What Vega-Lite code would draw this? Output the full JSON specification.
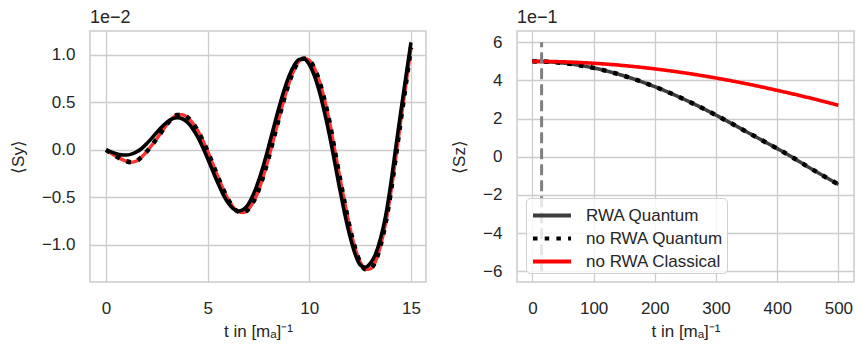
{
  "$schema": "https://vega.github.io/schema/vega-lite/v6.json",
  "padding": {"left": 8, "top": 8, "right": 10, "bottom": 5},
  "config": {
    "font": "Liberation Sans",
    "view": {"stroke": "#cccccc", "strokeWidth": 1.5},
    "axis": {"grid": true, "gridColor": "#cccccc", "gridWidth": 1.3, "domain": false, "ticks": false, "tickSize": 0, "labelFontSize": 17, "labelColor": "#262626", "titleFontSize": 17, "titleColor": "#262626", "titleFontWeight": "normal", "labelPadding": 15, "titlePadding": 14},
    "axisX": {"labelPadding": 18, "titlePadding": 7},
    "title": {"anchor": "start", "frame": "group", "fontSize": 18, "fontWeight": "normal", "color": "#262626", "offset": 0},
    "legend": {"orient": "bottom-left", "offset": 9, "symbolType": "M-1.52,0H1.52", "symbolSize": 625, "symbolOffset": 8.5, "symbolStrokeWidth": 4, "labelFontSize": 17, "labelColor": "#262626", "labelOffset": 19.5, "rowPadding": 0, "padding": 3, "strokeColor": "#d0d0d0", "fillColor": "rgba(255,255,255,0.8)", "cornerRadius": 4, "labelLimit": 300},
    "concat": {"spacing": 22}
  },
  "resolve": {"scale": {"color": "independent", "strokeDash": "independent"}, "legend": {"color": "independent", "strokeDash": "independent"}},
  "datasets": {
    "sy": [
      {"series":"RWA Quantum","t":0,"v":0},{"series":"RWA Quantum","t":0.25,"v":-0.022},{"series":"RWA Quantum","t":0.5,"v":-0.042},{"series":"RWA Quantum","t":0.75,"v":-0.053},{"series":"RWA Quantum","t":1,"v":-0.055},{"series":"RWA Quantum","t":1.25,"v":-0.045},{"series":"RWA Quantum","t":1.5,"v":-0.022},{"series":"RWA Quantum","t":1.75,"v":0.014},{"series":"RWA Quantum","t":2,"v":0.065},{"series":"RWA Quantum","t":2.25,"v":0.123},{"series":"RWA Quantum","t":2.5,"v":0.185},{"series":"RWA Quantum","t":2.75,"v":0.243},{"series":"RWA Quantum","t":3,"v":0.291},{"series":"RWA Quantum","t":3.25,"v":0.325},{"series":"RWA Quantum","t":3.5,"v":0.338},{"series":"RWA Quantum","t":3.75,"v":0.327},{"series":"RWA Quantum","t":4,"v":0.29},{"series":"RWA Quantum","t":4.25,"v":0.226},{"series":"RWA Quantum","t":4.5,"v":0.138},{"series":"RWA Quantum","t":4.75,"v":0.029},{"series":"RWA Quantum","t":5,"v":-0.094},{"series":"RWA Quantum","t":5.25,"v":-0.223},{"series":"RWA Quantum","t":5.5,"v":-0.35},{"series":"RWA Quantum","t":5.75,"v":-0.465},{"series":"RWA Quantum","t":6,"v":-0.557},{"series":"RWA Quantum","t":6.25,"v":-0.619},{"series":"RWA Quantum","t":6.5,"v":-0.645},{"series":"RWA Quantum","t":6.75,"v":-0.629},{"series":"RWA Quantum","t":7,"v":-0.571},{"series":"RWA Quantum","t":7.25,"v":-0.468},{"series":"RWA Quantum","t":7.5,"v":-0.327},{"series":"RWA Quantum","t":7.75,"v":-0.156},{"series":"RWA Quantum","t":8,"v":0.037},{"series":"RWA Quantum","t":8.25,"v":0.24},{"series":"RWA Quantum","t":8.5,"v":0.439},{"series":"RWA Quantum","t":8.75,"v":0.621},{"series":"RWA Quantum","t":9,"v":0.775},{"series":"RWA Quantum","t":9.25,"v":0.888},{"series":"RWA Quantum","t":9.5,"v":0.95},{"series":"RWA Quantum","t":9.75,"v":0.954},{"series":"RWA Quantum","t":10,"v":0.896},{"series":"RWA Quantum","t":10.25,"v":0.779},{"series":"RWA Quantum","t":10.5,"v":0.608},{"series":"RWA Quantum","t":10.75,"v":0.391},{"series":"RWA Quantum","t":11,"v":0.143},{"series":"RWA Quantum","t":11.25,"v":-0.133},{"series":"RWA Quantum","t":11.5,"v":-0.415},{"series":"RWA Quantum","t":11.75,"v":-0.68},{"series":"RWA Quantum","t":12,"v":-0.91},{"series":"RWA Quantum","t":12.25,"v":-1.095},{"series":"RWA Quantum","t":12.5,"v":-1.21},{"series":"RWA Quantum","t":12.75,"v":-1.235},{"series":"RWA Quantum","t":13,"v":-1.195},{"series":"RWA Quantum","t":13.25,"v":-1.1},{"series":"RWA Quantum","t":13.5,"v":-0.935},{"series":"RWA Quantum","t":13.75,"v":-0.7},{"series":"RWA Quantum","t":14,"v":-0.37},{"series":"RWA Quantum","t":14.25,"v":0.02},{"series":"RWA Quantum","t":14.5,"v":0.4},{"series":"RWA Quantum","t":14.75,"v":0.77},{"series":"RWA Quantum","t":15,"v":1.13},
      {"series":"no RWA Quantum","t":0,"v":0},{"series":"no RWA Quantum","t":0.25,"v":-0.035},{"series":"no RWA Quantum","t":0.5,"v":-0.068},{"series":"no RWA Quantum","t":0.75,"v":-0.098},{"series":"no RWA Quantum","t":1,"v":-0.12},{"series":"no RWA Quantum","t":1.25,"v":-0.13},{"series":"no RWA Quantum","t":1.5,"v":-0.117},{"series":"no RWA Quantum","t":1.75,"v":-0.075},{"series":"no RWA Quantum","t":2,"v":-0.018},{"series":"no RWA Quantum","t":2.25,"v":0.048},{"series":"no RWA Quantum","t":2.5,"v":0.12},{"series":"no RWA Quantum","t":2.75,"v":0.196},{"series":"no RWA Quantum","t":3,"v":0.27},{"series":"no RWA Quantum","t":3.25,"v":0.33},{"series":"no RWA Quantum","t":3.5,"v":0.366},{"series":"no RWA Quantum","t":3.75,"v":0.37},{"series":"no RWA Quantum","t":4,"v":0.342},{"series":"no RWA Quantum","t":4.25,"v":0.285},{"series":"no RWA Quantum","t":4.5,"v":0.205},{"series":"no RWA Quantum","t":4.75,"v":0.102},{"series":"no RWA Quantum","t":5,"v":-0.017},{"series":"no RWA Quantum","t":5.25,"v":-0.149},{"series":"no RWA Quantum","t":5.5,"v":-0.282},{"series":"no RWA Quantum","t":5.75,"v":-0.408},{"series":"no RWA Quantum","t":6,"v":-0.519},{"series":"no RWA Quantum","t":6.25,"v":-0.601},{"series":"no RWA Quantum","t":6.5,"v":-0.65},{"series":"no RWA Quantum","t":6.75,"v":-0.659},{"series":"no RWA Quantum","t":7,"v":-0.625},{"series":"no RWA Quantum","t":7.25,"v":-0.546},{"series":"no RWA Quantum","t":7.5,"v":-0.428},{"series":"no RWA Quantum","t":7.75,"v":-0.268},{"series":"no RWA Quantum","t":8,"v":-0.082},{"series":"no RWA Quantum","t":8.25,"v":0.121},{"series":"no RWA Quantum","t":8.5,"v":0.328},{"series":"no RWA Quantum","t":8.75,"v":0.527},{"series":"no RWA Quantum","t":9,"v":0.703},{"series":"no RWA Quantum","t":9.25,"v":0.843},{"series":"no RWA Quantum","t":9.5,"v":0.935},{"series":"no RWA Quantum","t":9.75,"v":0.96},{"series":"no RWA Quantum","t":10,"v":0.94},{"series":"no RWA Quantum","t":10.25,"v":0.858},{"series":"no RWA Quantum","t":10.5,"v":0.718},{"series":"no RWA Quantum","t":10.75,"v":0.523},{"series":"no RWA Quantum","t":11,"v":0.289},{"series":"no RWA Quantum","t":11.25,"v":-0.006},{"series":"no RWA Quantum","t":11.5,"v":-0.29},{"series":"no RWA Quantum","t":11.75,"v":-0.569},{"series":"no RWA Quantum","t":12,"v":-0.823},{"series":"no RWA Quantum","t":12.25,"v":-1.034},{"series":"no RWA Quantum","t":12.5,"v":-1.18},{"series":"no RWA Quantum","t":12.75,"v":-1.255},{"series":"no RWA Quantum","t":13,"v":-1.25},{"series":"no RWA Quantum","t":13.25,"v":-1.175},{"series":"no RWA Quantum","t":13.5,"v":-1.01},{"series":"no RWA Quantum","t":13.75,"v":-0.775},{"series":"no RWA Quantum","t":14,"v":-0.46},{"series":"no RWA Quantum","t":14.25,"v":-0.085},{"series":"no RWA Quantum","t":14.5,"v":0.31},{"series":"no RWA Quantum","t":14.75,"v":0.69},{"series":"no RWA Quantum","t":15,"v":1.075},
      {"series":"no RWA Classical","t":0,"v":0},{"series":"no RWA Classical","t":0.25,"v":-0.035},{"series":"no RWA Classical","t":0.5,"v":-0.068},{"series":"no RWA Classical","t":0.75,"v":-0.098},{"series":"no RWA Classical","t":1,"v":-0.12},{"series":"no RWA Classical","t":1.25,"v":-0.13},{"series":"no RWA Classical","t":1.5,"v":-0.117},{"series":"no RWA Classical","t":1.75,"v":-0.075},{"series":"no RWA Classical","t":2,"v":-0.018},{"series":"no RWA Classical","t":2.25,"v":0.048},{"series":"no RWA Classical","t":2.5,"v":0.12},{"series":"no RWA Classical","t":2.75,"v":0.196},{"series":"no RWA Classical","t":3,"v":0.27},{"series":"no RWA Classical","t":3.25,"v":0.33},{"series":"no RWA Classical","t":3.5,"v":0.366},{"series":"no RWA Classical","t":3.75,"v":0.37},{"series":"no RWA Classical","t":4,"v":0.342},{"series":"no RWA Classical","t":4.25,"v":0.285},{"series":"no RWA Classical","t":4.5,"v":0.205},{"series":"no RWA Classical","t":4.75,"v":0.102},{"series":"no RWA Classical","t":5,"v":-0.017},{"series":"no RWA Classical","t":5.25,"v":-0.149},{"series":"no RWA Classical","t":5.5,"v":-0.282},{"series":"no RWA Classical","t":5.75,"v":-0.408},{"series":"no RWA Classical","t":6,"v":-0.519},{"series":"no RWA Classical","t":6.25,"v":-0.601},{"series":"no RWA Classical","t":6.5,"v":-0.65},{"series":"no RWA Classical","t":6.75,"v":-0.659},{"series":"no RWA Classical","t":7,"v":-0.625},{"series":"no RWA Classical","t":7.25,"v":-0.546},{"series":"no RWA Classical","t":7.5,"v":-0.428},{"series":"no RWA Classical","t":7.75,"v":-0.268},{"series":"no RWA Classical","t":8,"v":-0.082},{"series":"no RWA Classical","t":8.25,"v":0.121},{"series":"no RWA Classical","t":8.5,"v":0.328},{"series":"no RWA Classical","t":8.75,"v":0.527},{"series":"no RWA Classical","t":9,"v":0.703},{"series":"no RWA Classical","t":9.25,"v":0.843},{"series":"no RWA Classical","t":9.5,"v":0.935},{"series":"no RWA Classical","t":9.75,"v":0.96},{"series":"no RWA Classical","t":10,"v":0.94},{"series":"no RWA Classical","t":10.25,"v":0.858},{"series":"no RWA Classical","t":10.5,"v":0.718},{"series":"no RWA Classical","t":10.75,"v":0.523},{"series":"no RWA Classical","t":11,"v":0.289},{"series":"no RWA Classical","t":11.25,"v":-0.006},{"series":"no RWA Classical","t":11.5,"v":-0.29},{"series":"no RWA Classical","t":11.75,"v":-0.569},{"series":"no RWA Classical","t":12,"v":-0.823},{"series":"no RWA Classical","t":12.25,"v":-1.034},{"series":"no RWA Classical","t":12.5,"v":-1.18},{"series":"no RWA Classical","t":12.75,"v":-1.255},{"series":"no RWA Classical","t":13,"v":-1.25},{"series":"no RWA Classical","t":13.25,"v":-1.175},{"series":"no RWA Classical","t":13.5,"v":-1.01},{"series":"no RWA Classical","t":13.75,"v":-0.775},{"series":"no RWA Classical","t":14,"v":-0.46},{"series":"no RWA Classical","t":14.25,"v":-0.085},{"series":"no RWA Classical","t":14.5,"v":0.31},{"series":"no RWA Classical","t":14.75,"v":0.69},{"series":"no RWA Classical","t":15,"v":1.075}
    ],
    "sz": [
      {"series":"RWA Quantum","t":0,"v":5.0},{"series":"RWA Quantum","t":25,"v":4.978},{"series":"RWA Quantum","t":50,"v":4.913},{"series":"RWA Quantum","t":75,"v":4.805},{"series":"RWA Quantum","t":100,"v":4.656},{"series":"RWA Quantum","t":125,"v":4.466},{"series":"RWA Quantum","t":150,"v":4.237},{"series":"RWA Quantum","t":175,"v":3.971},{"series":"RWA Quantum","t":200,"v":3.672},{"series":"RWA Quantum","t":225,"v":3.341},{"series":"RWA Quantum","t":250,"v":2.981},{"series":"RWA Quantum","t":275,"v":2.593},{"series":"RWA Quantum","t":300,"v":2.183},{"series":"RWA Quantum","t":325,"v":1.752},{"series":"RWA Quantum","t":350,"v":1.309},{"series":"RWA Quantum","t":375,"v":0.87},{"series":"RWA Quantum","t":400,"v":0.43},{"series":"RWA Quantum","t":425,"v":-0.03},{"series":"RWA Quantum","t":450,"v":-0.52},{"series":"RWA Quantum","t":475,"v":-0.99},{"series":"RWA Quantum","t":500,"v":-1.45},
      {"series":"no RWA Quantum","t":0,"v":5.0},{"series":"no RWA Quantum","t":25,"v":4.978},{"series":"no RWA Quantum","t":50,"v":4.913},{"series":"no RWA Quantum","t":75,"v":4.805},{"series":"no RWA Quantum","t":100,"v":4.656},{"series":"no RWA Quantum","t":125,"v":4.466},{"series":"no RWA Quantum","t":150,"v":4.237},{"series":"no RWA Quantum","t":175,"v":3.971},{"series":"no RWA Quantum","t":200,"v":3.672},{"series":"no RWA Quantum","t":225,"v":3.341},{"series":"no RWA Quantum","t":250,"v":2.981},{"series":"no RWA Quantum","t":275,"v":2.593},{"series":"no RWA Quantum","t":300,"v":2.183},{"series":"no RWA Quantum","t":325,"v":1.752},{"series":"no RWA Quantum","t":350,"v":1.309},{"series":"no RWA Quantum","t":375,"v":0.87},{"series":"no RWA Quantum","t":400,"v":0.43},{"series":"no RWA Quantum","t":425,"v":-0.03},{"series":"no RWA Quantum","t":450,"v":-0.52},{"series":"no RWA Quantum","t":475,"v":-0.99},{"series":"no RWA Quantum","t":500,"v":-1.45},
      {"series":"no RWA Classical","t":0,"v":5.0},{"series":"no RWA Classical","t":50,"v":4.975},{"series":"no RWA Classical","t":100,"v":4.9},{"series":"no RWA Classical","t":150,"v":4.777},{"series":"no RWA Classical","t":200,"v":4.605},{"series":"no RWA Classical","t":250,"v":4.388},{"series":"no RWA Classical","t":300,"v":4.127},{"series":"no RWA Classical","t":350,"v":3.824},{"series":"no RWA Classical","t":400,"v":3.48},{"series":"no RWA Classical","t":450,"v":3.108},{"series":"no RWA Classical","t":500,"v":2.7}
    ],
    "marker": [{"t": 15, "low": -6, "high": 6}]
  },
  "hconcat": [
    {
      "width": 336,
      "height": 251,
      "title": {"text": "1e−2"},
      "data": {"name": "sy"},
      "encoding": {
        "x": {"field": "t", "type": "quantitative", "scale": {"domain": [-0.79, 15.74], "nice": false, "zero": false}, "axis": {"values": [0, 5, 10, 15], "title": "t in [mₐ]⁻¹"}},
        "y": {"field": "v", "type": "quantitative", "scale": {"domain": [-1.39, 1.25], "nice": false, "zero": false}, "axis": {"values": [-1, -0.5, 0, 0.5, 1], "format": ".1f", "title": "⟨Sy⟩"}}
      },
      "layer": [
        {"transform": [{"filter": "datum.series === 'no RWA Classical'"}], "mark": {"type": "line", "color": "#ff0000", "strokeWidth": 3.5, "opacity": 0.8, "interpolate": "monotone"}},
        {"transform": [{"filter": "datum.series === 'RWA Quantum'"}], "mark": {"type": "line", "color": "#000000", "strokeWidth": 3.6, "interpolate": "monotone"}},
        {"transform": [{"filter": "datum.series === 'no RWA Quantum'"}], "mark": {"type": "line", "color": "#000000", "strokeWidth": 4.5, "strokeDash": [4.5, 7.2], "strokeCap": "butt", "interpolate": "monotone"}}
      ]
    },
    {
      "width": 337,
      "height": 251,
      "title": {"text": "1e−1"},
      "encoding": {
        "x": {"field": "t", "type": "quantitative", "scale": {"domain": [-25.2, 525.5], "nice": false, "zero": false}, "axis": {"values": [0, 100, 200, 300, 400, 500], "title": "t in [mₐ]⁻¹"}},
        "y": {"field": "v", "type": "quantitative", "scale": {"domain": [-6.56, 6.59], "nice": false, "zero": false}, "axis": {"values": [-6, -4, -2, 0, 2, 4, 6], "format": "d", "title": "⟨Sz⟩"}}
      },
      "layer": [
        {
          "data": {"name": "sz"},
          "transform": [{"filter": "datum.series === 'RWA Quantum'"}],
          "mark": {"type": "line", "strokeWidth": 3.6, "interpolate": "monotone"},
          "encoding": {
            "color": {"field": "series", "type": "nominal", "title": null, "scale": {"domain": ["RWA Quantum", "no RWA Quantum", "no RWA Classical"], "range": ["#3d3d3d", "#000000", "#ff0000"]}},
            "strokeDash": {"field": "series", "type": "nominal", "title": null, "scale": {"domain": ["RWA Quantum", "no RWA Quantum", "no RWA Classical"], "range": [[1, 0], [4.5, 7.2], [1, 0]]}}
          }
        },
        {
          "data": {"name": "sz"},
          "transform": [{"filter": "datum.series === 'no RWA Quantum'"}],
          "mark": {"type": "line", "strokeWidth": 4.5, "strokeCap": "butt", "interpolate": "monotone"},
          "encoding": {
            "color": {"field": "series", "type": "nominal", "title": null},
            "strokeDash": {"field": "series", "type": "nominal", "title": null}
          }
        },
        {
          "data": {"name": "sz"},
          "transform": [{"filter": "datum.series === 'no RWA Classical'"}],
          "mark": {"type": "line", "strokeWidth": 3.6, "interpolate": "monotone"},
          "encoding": {
            "color": {"field": "series", "type": "nominal", "title": null},
            "strokeDash": {"field": "series", "type": "nominal", "title": null}
          }
        },
        {
          "data": {"name": "marker"},
          "mark": {"type": "rule", "color": "#808080", "strokeWidth": 3, "strokeDash": [11, 5]},
          "encoding": {
            "x": {"field": "t", "type": "quantitative"},
            "y": {"field": "low", "type": "quantitative"},
            "y2": {"field": "high"}
          }
        }
      ]
    }
  ]
}
